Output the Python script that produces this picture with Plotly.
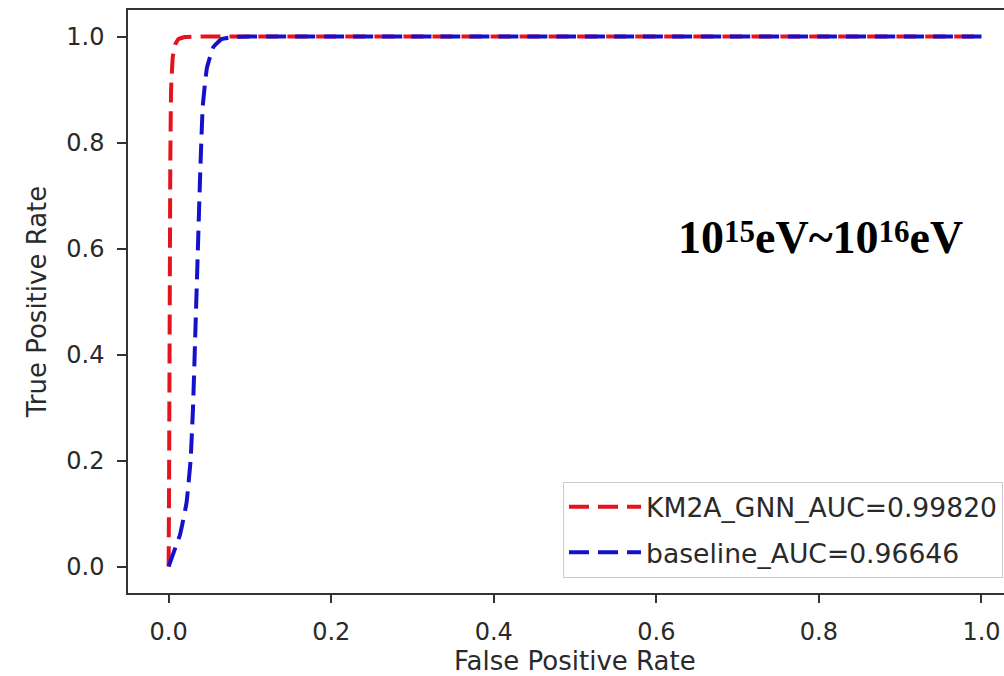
import plotly.graph_objects as go

# ROC curve points
gnn_fpr = [0.0, 0.0005, 0.001, 0.0015, 0.002, 0.003, 0.005, 0.008, 0.012, 0.02, 0.04, 0.1, 0.5, 1.0]
gnn_tpr = [0.0, 0.15, 0.35, 0.55, 0.75, 0.9, 0.96, 0.985, 0.995, 0.999, 1.0, 1.0, 1.0, 1.0]
base_fpr = [0.0, 0.007, 0.014, 0.022, 0.027, 0.030, 0.033, 0.036, 0.039, 0.042, 0.047, 0.055, 0.065, 0.08, 0.1, 0.5, 1.0]
base_tpr = [0.0, 0.03, 0.06, 0.12, 0.20, 0.30, 0.45, 0.60, 0.75, 0.87, 0.94, 0.98, 0.995, 0.999, 1.0, 1.0, 1.0]
names = ["KM2A_GNN_AUC=0.99820", "baseline_AUC=0.96646"]
colors = ["#e3141e", "#1510cc"]
xticks = [0.0, 0.2, 0.4, 0.6, 0.8, 1.0]
yticks = [0.0, 0.2, 0.4, 0.6, 0.8, 1.0]

fig = go.Figure()
for i, (xs, ys) in enumerate([(gnn_fpr, gnn_tpr), (base_fpr, base_tpr)]):
    fig.add_trace(go.Scatter(
        x=xs, y=ys, mode="lines", name=names[i], legendgroup=f"g{i}",
        line=dict(color=colors[i], width=4, dash="20px,9px", shape="spline", smoothing=0.3),
    ))

txt = "#2a2a2a"
axis_font = dict(family="DejaVu Sans", size=24, color=txt)
fig.update_layout(
    width=1004, height=676,
    margin=dict(l=128, r=0, t=10, b=83, autoexpand=False),
    paper_bgcolor="white", plot_bgcolor="white",
    showlegend=True,
    legend=dict(
        x=(563 - 128) / 876, y=1 - (482 - 10) / 583, xanchor="left", yanchor="top",
        bgcolor="rgba(255,255,255,0.8)", bordercolor="#cccccc", borderwidth=1,
        font=dict(family="DejaVu Sans", size=26.6, color=txt),
        tracegroupgap=8, itemwidth=72,
    ),
    xaxis=dict(
        range=[-0.05, 1.0277], tickvals=xticks, ticktext=[f"{v:.1f}" for v in xticks],
        showgrid=False, zeroline=False, showline=True, linecolor="#333333", linewidth=1.5,
        mirror=True, ticks="outside", ticklen=8, tickwidth=1.5, tickcolor="#333333",
        tickfont=axis_font, ticklabelstandoff=8,
    ),
    yaxis=dict(
        range=[-0.05, 1.05], tickvals=yticks, ticktext=[f"{v:.1f}" for v in yticks],
        showgrid=False, zeroline=False, showline=True, linecolor="#333333", linewidth=1.5,
        ticks="outside", ticklen=9, tickwidth=1.5, tickcolor="#333333",
        tickfont=axis_font, ticklabelstandoff=8,
        title=dict(text="True Positive Rate", font=dict(family="DejaVu Sans", size=26, color=txt), standoff=12),
    ),
)
fig.add_annotation(
    x=(575 - 128) / 876, y=(593 - 661) / 583, xref="paper", yref="paper", showarrow=False,
    text="False Positive Rate", font=dict(family="DejaVu Sans", size=26, color=txt),
    xanchor="center", yanchor="middle",
)
fig.add_annotation(
    x=0.624, y=0.62, xref="x", yref="y", showarrow=False, xanchor="left", yanchor="middle",
    text="<b>10<span style=\"font-size:31px;baseline-shift:11px\">15</span>eV~10<span style=\"font-size:31px;baseline-shift:11px\">16</span>eV</b>",
    font=dict(family="Liberation Serif", size=46, color="black"),
)
fig.write_html("out.html")
